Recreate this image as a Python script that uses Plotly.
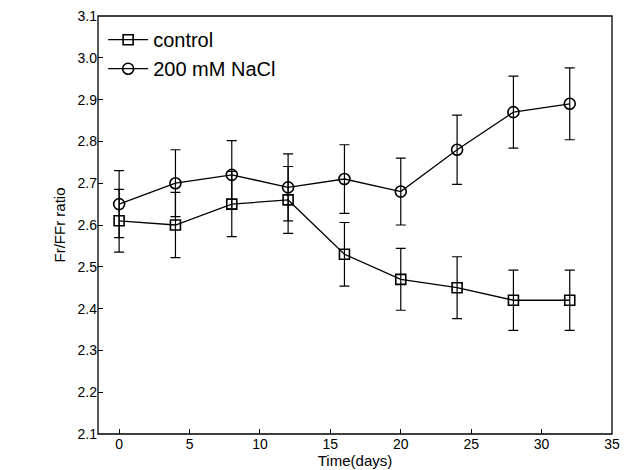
import plotly.graph_objects as go

days = [0, 4, 8, 12, 16, 20, 24, 28, 32]
control = [2.61, 2.60, 2.65, 2.66, 2.53, 2.47, 2.45, 2.42, 2.42]
control_err = [0.075, 0.078, 0.078, 0.08, 0.076, 0.074, 0.074, 0.072, 0.072]
nacl = [2.65, 2.70, 2.72, 2.69, 2.71, 2.68, 2.78, 2.87, 2.89]
nacl_err = [0.08, 0.08, 0.082, 0.08, 0.082, 0.08, 0.083, 0.086, 0.086]

fig = go.Figure()
fig.add_trace(go.Scatter(
    x=days, y=control, name="control", mode="lines+markers",
    line=dict(color="black", width=1.3),
    marker=dict(symbol="square-open", size=10, color="black", line=dict(width=1.6)),
    error_y=dict(type="data", array=control_err, color="black", thickness=1.2, width=5),
))
fig.add_trace(go.Scatter(
    x=days, y=nacl, name="200 mM NaCl", mode="lines+markers",
    line=dict(color="black", width=1.3),
    marker=dict(symbol="circle-open", size=11, color="black", line=dict(width=1.6)),
    error_y=dict(type="data", array=nacl_err, color="black", thickness=1.2, width=5),
))

font = dict(family="Arial, Liberation Sans", size=14, color="black")
axis = dict(showgrid=False, zeroline=False, showline=False, ticklabeloverflow="allow",
            ticks="inside", tickcolor="black", ticklen=5, automargin=False, tickfont=font)
fig.update_xaxes(**axis, range=[-1.5, 35], tickvals=list(range(0, 36, 5)),
                 title=dict(text="Time(days)", standoff=2, font=dict(font, size=15)))
fig.update_yaxes(**axis, range=[2.1, 3.1], tickvals=[round(2.1 + 0.1 * i, 1) for i in range(11)],
                 tickformat=".1f",
                 title=dict(text="Fr/FFr ratio", standoff=8, font=dict(font, size=15)))
fig.add_shape(type="rect", xref="paper", yref="paper", x0=0, y0=0, x1=1, y1=1,
              line=dict(color="black", width=1.3), layer="above")
fig.update_layout(
    width=622, height=462, plot_bgcolor="white", paper_bgcolor="white",
    margin=dict(l=90, r=18, t=8, b=36, autoexpand=False),
    legend=dict(x=0.01, y=0.99, bgcolor="rgba(0,0,0,0)", itemwidth=40,
                font=dict(font, size=20)),
)
fig.write_html("out.html")
